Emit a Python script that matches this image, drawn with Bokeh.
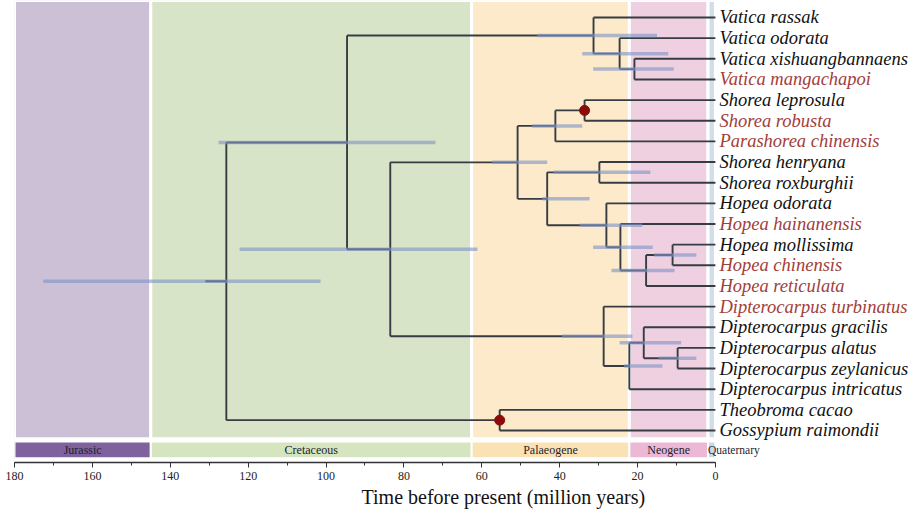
from bokeh.plotting import figure
from bokeh.models import Range1d, FixedTicker, ColumnDataSource, Title
from bokeh.embed import file_html
from bokeh.resources import INLINE
from bokeh.core.properties import value

# ---- tips (top to bottom) ----
tips = [
    "Vatica rassak", "Vatica odorata", "Vatica xishuangbannaens", "Vatica mangachapoi",
    "Shorea leprosula", "Shorea robusta", "Parashorea chinensis",
    "Shorea henryana", "Shorea roxburghii",
    "Hopea odorata", "Hopea hainanensis", "Hopea mollissima", "Hopea chinensis", "Hopea reticulata",
    "Dipterocarpus turbinatus", "Dipterocarpus gracilis", "Dipterocarpus alatus",
    "Dipterocarpus zeylanicus", "Dipterocarpus intricatus",
    "Theobroma cacao", "Gossypium raimondii",
]
tip_marked = [
    False, False, False, True,
    False, True, True,
    False, False,
    False, True, False, True, True,
    True, False, False, False, False,
    False, False,
]

# ---- internal nodes (children listed before parents) ----
node_names = ["vat3", "vat2", "vat", "sho1", "sho2", "shr", "hop5", "hop4", "hop3", "hop",
              "shr_hop", "sho_hop", "dip4", "dip3", "dip2", "dip", "core", "dipt", "out", "root"]
node_child_a = ["Vatica xishuangbannaens", "Vatica odorata", "Vatica rassak",
                "Shorea leprosula", "sho1", "Shorea henryana", "Hopea mollissima", "hop5",
                "Hopea hainanensis", "Hopea odorata", "shr", "sho2",
                "Dipterocarpus alatus", "Dipterocarpus gracilis", "dip3", "Dipterocarpus turbinatus",
                "sho_hop", "vat", "Theobroma cacao", "dipt"]
node_child_b = ["Vatica mangachapoi", "vat3", "vat2",
                "Shorea robusta", "Parashorea chinensis", "Shorea roxburghii", "Hopea chinensis",
                "Hopea reticulata", "hop4", "hop3", "hop", "shr_hop",
                "Dipterocarpus zeylanicus", "dip4", "Dipterocarpus intricatus", "dip2",
                "dip", "core", "Gossypium raimondii", "out"]
node_age = [20.8, 24.6, 31.3, 33.6, 41.1, 29.8, 11.0, 17.8, 24.4, 28.0,
            43.2, 50.8, 9.7, 18.4, 22.1, 28.7, 83.5, 94.6, 55.4, 125.6]
hpd_old = [31.4, 34.2, 45.8, None, 47.1, 41.6, 15.8, 26.7, 31.4, 34.9,
           44.5, 57.3, 14.6, 24.6, 23.5, 39.4, 122.2, 127.6, None, 172.6]
hpd_young = [10.7, 12.1, 15.0, None, 34.2, 16.7, 4.9, 10.5, 16.1, 18.8,
             32.3, 43.2, 4.9, 8.8, 13.6, 21.3, 61.1, 71.9, None, 101.4]
calibrated = [False, False, False, True, False, False, False, False, False, False,
              False, False, False, False, False, False, False, False, True, False]
root_stem_age = 131.0

# ---- geological periods ----
eras = ["Jurassic", "Cretaceous", "Palaeogene", "Neogene", "Quaternary"]
era_old = [180, 145, 62.6, 22.1, 1.9]
era_young = [145, 62.6, 22.1, 1.9, 0]
era_fill = ["#CBC0D5", "#D8E4C7", "#FCEACA", "#EFD0E1", "#D2DDEA"]
era_band = ["#7E619D", "#D4E5BF", "#FBE2B4", "#EBB9D5", "#CAD8EA"]

# x-axis ticks
major_ticks = list(range(0, 181, 20))
minor_ticks = list(range(0, 181, 10))

# ---- tree layout ----
pos_y = {name: float(i) for i, name in enumerate(tips)}
pos_x = {name: 0.0 for name in tips}
for name, a, b, age in zip(node_names, node_child_a, node_child_b, node_age):
    pos_y[name] = (pos_y[a] + pos_y[b]) / 2.0
    pos_x[name] = age

n_tips = len(tips)
TREE = "#373C43"
SERIF = "Liberation Serif"

p = figure(width=910, height=515,
           x_range=Range1d(180, -50.1), y_range=Range1d(n_tips + 0.55, -0.823),
           output_backend="svg", toolbar_location=None, y_axis_location=None,
           min_border_left=14, min_border_right=0, min_border_top=0, min_border_bottom=53)
p.grid.visible = False
p.outline_line_color = None
p.background_fill_color = "white"
p.border_fill_color = "white"

# period backgrounds and the labelled band underneath
p.quad(left=era_old, right=era_young, top=-0.823, bottom=n_tips - 0.6,
       fill_color=era_fill, line_color="white", line_width=3)
p.quad(left=era_old, right=era_young, top=n_tips - 0.47, bottom=n_tips + 0.35,
       fill_color=era_band, line_color="white", line_width=2)
band_mid = n_tips - 0.06
mid_x = [(o + y) / 2 for o, y in zip(era_old[:-1], era_young[:-1])]
p.text(x=mid_x, y=band_mid, text=eras[:-1], text_align="center", text_baseline="middle",
       text_font=value(SERIF), text_font_size="12px", text_color="#241E2C")
p.text(x=era_old[-1:], y=band_mid, text=eras[-1:], text_align="left", text_baseline="middle",
       x_offset=0, text_font=value(SERIF), text_font_size="11.5px", text_color="#241E2C")

# branches
vx, vy0, vy1 = [], [], []
hx0, hx1, hy = [], [], []
for name, a, b in zip(node_names, node_child_a, node_child_b):
    vx.append(pos_x[name]); vy0.append(pos_y[a]); vy1.append(pos_y[b])
    for c in (a, b):
        hx0.append(pos_x[name]); hx1.append(pos_x[c]); hy.append(pos_y[c])
hx0.append(root_stem_age); hx1.append(pos_x["root"]); hy.append(pos_y["root"])
p.segment(x0=vx, x1=vx, y0=vy0, y1=vy1, line_color=TREE, line_width=1.9)
p.segment(x0=hx0, x1=hx1, y0=hy, y1=hy, line_color=TREE, line_width=1.9)

# 95% HPD bars
bx0, bx1, by = [], [], []
for name, o, yg in zip(node_names, hpd_old, hpd_young):
    if o is not None:
        bx0.append(o); bx1.append(yg); by.append(pos_y[name])
p.segment(x0=bx0, x1=bx1, y0=by, y1=by, line_color="#7F95C6", line_alpha=0.62, line_width=3.5)

# calibration points
cal = [n for n, c in zip(node_names, calibrated) if c]
p.scatter(x=[pos_x[n] for n in cal], y=[pos_y[n] for n in cal], size=10,
          fill_color="#8B0B0B", line_color="#8B0B0B")

# tip labels
tip_src = ColumnDataSource(dict(
    x=[0.0] * n_tips, y=list(range(n_tips)), text=tips,
    color=["#A23E3A" if m else "#111111" for m in tip_marked]))
p.text(x="x", y="y", text="text", source=tip_src, x_offset=4, text_color="color",
       text_baseline="middle", text_font=value(SERIF), text_font_style="italic",
       text_font_size="18.5px")

# time axis
ax = p.xaxis[0]
ax.bounds = (0, 180)
ax.ticker = FixedTicker(ticks=major_ticks, minor_ticks=minor_ticks)
ax.axis_line_color = "#333333"
ax.axis_line_width = 1.3
ax.major_tick_line_color = "#333333"
ax.minor_tick_line_color = "#333333"
ax.major_tick_in = 0
ax.major_tick_out = 5
ax.minor_tick_in = 0
ax.minor_tick_out = 3
ax.major_label_standoff = 4
ax.major_label_text_font = SERIF
ax.major_label_text_font_size = "12px"
ax.major_label_text_color = "#222222"

p.add_layout(Title(text="Time before present (million years)", align="left", offset=347,
                   text_font=SERIF, text_font_size="20px", text_font_style="normal",
                   text_color="#111111", standoff=2), "below")

open("out.html", "w").write(file_html(p, INLINE))
